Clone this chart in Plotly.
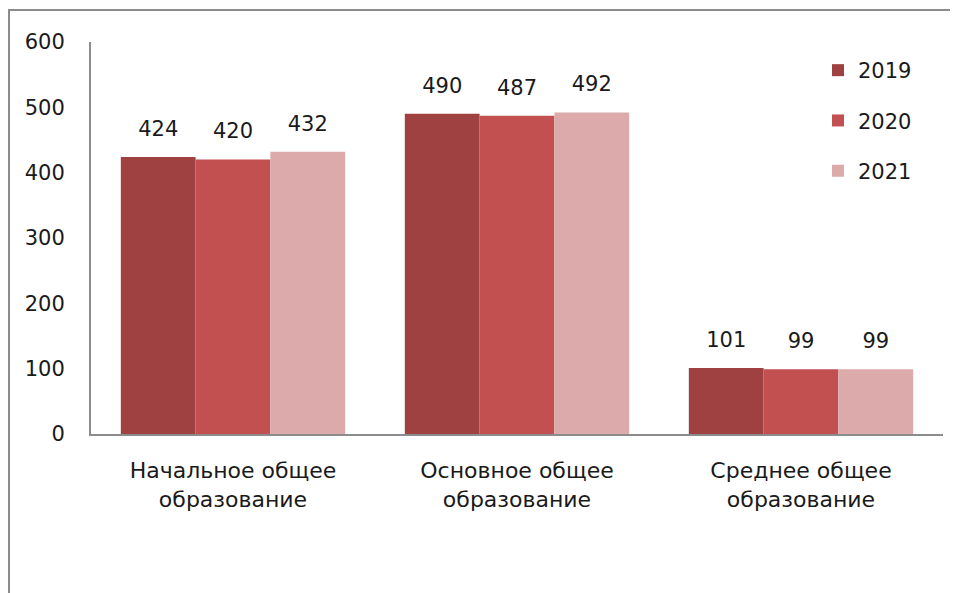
import plotly.graph_objects as go

categories = ["Начальное общее<br>образование", "Основное общее<br>образование", "Среднее общее<br>образование"]
years = ["2019", "2020", "2021"]
v2019 = [424, 490, 101]
v2020 = [420, 487, 99]
v2021 = [432, 492, 99]
series = [v2019, v2020, v2021]
colors = ["#A04141", "#C25050", "#DCAAAA"]

FONT = "DejaVu Sans"
FS = 21
# page body has an 8px default margin; the figure is sized/offset accordingly
W, H = 950, 585
L, R, T, B = 83, 15, 34, 159
PW, PH = W - L - R, H - T - B

fig = go.Figure()
for i, (name, vals) in enumerate(zip(years, series)):
    fig.add_trace(go.Bar(
        x=categories, y=vals, name=name, legendgroup=name,
        offsetgroup=str(i), alignmentgroup="a",
        marker=dict(color=colors[i], line=dict(width=0)),
    ))
for i, (name, vals) in enumerate(zip(years, series)):
    fig.add_trace(go.Scatter(
        x=categories, y=vals, mode="markers+text", showlegend=False,
        offsetgroup=str(i), alignmentgroup="a",
        marker=dict(size=24, opacity=0),
        text=[str(v) for v in vals], textposition="top center",
        textfont=dict(family=FONT, size=FS, color="#1a1a1a"),
        cliponaxis=False, hoverinfo="skip",
    ))

fig.update_layout(
    width=W, height=H,
    margin=dict(l=L, r=R, t=T, b=B, autoexpand=False),
    paper_bgcolor="white", plot_bgcolor="white",
    barmode="group", bargap=0.21, bargroupgap=0,
    scattermode="group", scattergap=0.21,
    font=dict(family=FONT, size=FS, color="#1a1a1a"),
    showlegend=True,
    legend=dict(x=(818 - 91) / PW, y=(434 - 50) / PH, xanchor="left", yanchor="top",
                font=dict(family=FONT, size=FS, color="#1a1a1a"),
                tracegroupgap=20, itemwidth=30, bgcolor="rgba(0,0,0,0)"),
    xaxis=dict(showline=True, linecolor="#8c8c8c", linewidth=2, ticks="",
               tickfont=dict(family=FONT, size=22), ticklabelstandoff=16,
               showgrid=False, zeroline=False, automargin=False),
    yaxis=dict(range=[0, 600], tickvals=[0, 100, 200, 300, 400, 500, 600],
               showline=True, linecolor="#8c8c8c", linewidth=2, ticks="",
               tickfont=dict(family=FONT, size=FS), ticklabelstandoff=20,
               showgrid=False, zeroline=False, automargin=False),
    shapes=[dict(type="rect", xref="paper", yref="paper",
                 x0=(9 - 91) / PW, x1=(1010 - 91) / PW,
                 y0=(434 - 620) / PH, y1=(434 - 10) / PH,
                 line=dict(color="#8c8c8c", width=2), fillcolor="rgba(0,0,0,0)",
                 layer="below")],
)

fig.write_html("out.html")
